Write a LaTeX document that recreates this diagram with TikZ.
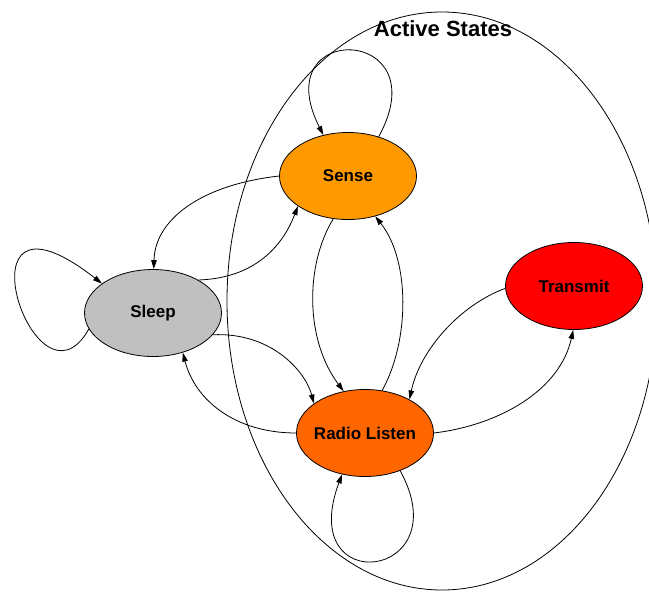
\documentclass[tikz,border=0pt]{standalone}
\usepackage{fontspec}
\setmainfont{Liberation Sans}
\usetikzlibrary{shapes.geometric,arrows.meta}

\definecolor{senseorange}{HTML}{FF9900}
\definecolor{sleepgray}{HTML}{C0C0C0}
\definecolor{radioorange}{HTML}{FF6600}
\definecolor{txred}{HTML}{FF0000}

% state label set in a zero-width box so the ellipse keeps its fixed size
\newcommand{\statetext}[1]{\makebox[0pt]{#1}}

\tikzset{
  state/.style={ellipse, draw=black, line width=0.8pt, minimum width=137pt,
    minimum height=87pt, inner sep=0pt, font=\fontsize{17}{20}\selectfont\bfseries},
  trans/.style={draw=black, line width=0.8pt,
    -{Triangle[length=9pt,width=5.5pt]}},
  group/.style={draw=black, line width=0.8pt}
}

\begin{document}
\begin{tikzpicture}[x=1pt, y=-1pt]
  \useasboundingbox (0,0) rectangle (649,592);
  \clip (0,0) rectangle (649,592);

  % group outline for the active states
  \draw[group] (442,301) ellipse [x radius=215, y radius=289];
  \node[font=\fontsize{22}{26}\selectfont\bfseries] (title) at (443,29) {Active States};

  % states
  \node[state, fill=senseorange] (sense) at (348,176) {\statetext{Sense}};
  \node[state, fill=sleepgray] (sleep) at (153,313) {\statetext{Sleep}};
  \node[state, fill=radioorange] (radio) at (365,433) {\statetext{Radio Listen}};
  \node[state, fill=txred] (tx) at (574,286) {\statetext{Transmit}};

  % self loops
  \draw[trans] (sense.52) .. controls (440,25) and (265,20) .. (sense.121);
  \draw[trans] (sleep.194) .. controls (35,425) and (-50,165) .. (sleep.150);
  \draw[trans] (radio.313) .. controls (460,580) and (295,600) .. (radio.241);

  % transitions between states
  \draw[trans] (sense.180) .. controls (200,185) and (155,220) .. (sleep.89);
  \draw[trans] (sleep.36) .. controls (260,278) and (285,240) .. (sense.211);
  \draw[trans] (sleep.340) .. controls (270,332) and (305,370) .. (radio.150);
  \draw[trans] (radio.180) .. controls (235,433) and (195,400) .. (sleep.307);
  \draw[trans] (sense.251) .. controls (305,265) and (305,340) .. (radio.117);
  \draw[trans] (radio.68) .. controls (410,340) and (410,260) .. (sense.304);
  \draw[trans] (tx.182) .. controls (460,305) and (420,350) .. (radio.37);
  \draw[trans] (radio.0) .. controls (500,425) and (560,390) .. (tx.269);
\end{tikzpicture}
\end{document}
